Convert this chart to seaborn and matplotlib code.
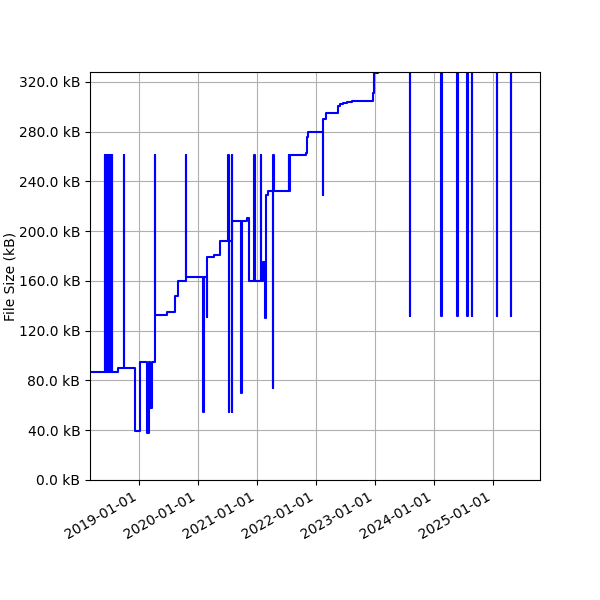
import seaborn as sns
import matplotlib.pyplot as plt
import matplotlib.dates as mdates
import matplotlib.ticker as mticker
import pandas as pd

# file size history (kB), step-wise changes
dates = [
    '2018-03-01', '2018-06-02', '2018-06-04', '2018-06-08', '2018-06-10',
    '2018-06-15', '2018-06-17', '2018-06-22', '2018-06-24', '2018-06-29',
    '2018-07-01', '2018-07-06', '2018-07-08', '2018-07-13', '2018-07-16',
    '2018-08-23', '2018-09-27', '2018-09-29', '2018-12-05', '2019-01-05',
    '2019-02-15', '2019-03-01', '2019-03-09', '2019-03-18', '2019-04-08',
    '2019-04-11', '2019-06-23', '2019-08-13', '2019-08-26', '2019-10-17',
    '2019-10-19', '2020-02-03', '2020-02-06', '2020-02-24', '2020-02-27',
    '2020-04-10', '2020-05-13', '2020-07-06', '2020-07-08', '2020-07-10',
    '2020-07-26', '2020-07-28', '2020-07-30', '2020-09-23', '2020-09-26',
    '2020-10-30', '2020-11-13', '2020-12-14', '2020-12-16', '2021-01-25',
    '2021-01-27', '2021-02-08', '2021-02-20', '2021-02-27', '2021-03-08',
    '2021-04-09', '2021-04-11', '2021-04-13', '2021-07-15', '2021-07-18',
    '2021-07-25', '2021-11-01', '2021-11-04', '2021-11-12', '2022-02-11',
    '2022-02-15', '2022-03-04', '2022-05-15', '2022-06-01', '2022-06-20',
    '2022-07-15', '2022-08-10', '2022-12-20', '2022-12-28', '2023-01-22',
    '2023-08-08', '2023-08-10', '2024-02-14', '2024-02-16', '2024-02-18',
    '2024-02-20', '2024-02-22', '2024-02-24', '2024-05-27', '2024-05-29',
    '2024-07-28', '2024-07-30', '2024-08-25', '2024-08-27', '2025-01-27',
    '2025-01-29', '2025-04-24', '2025-04-26', '2025-10-22',
]
sizes = [
    87, 261, 87, 261, 87,
    261, 87, 261, 87, 261,
    87, 261, 87, 261, 87,
    90, 261, 90, 39, 95,
    38, 95, 58, 95, 261,
    133, 135, 148, 160, 261,
    163, 55, 163, 131, 179,
    181, 192, 261, 55, 192,
    261, 55, 208, 70, 208,
    211, 160, 261, 160, 261,
    160, 175, 130, 229, 232,
    74, 261, 232, 261, 232,
    261, 263, 276, 280, 229,
    290, 295, 301, 302, 303,
    304, 305, 311, 327, 345,
    132, 345, 132, 345, 132,
    345, 132, 345, 132, 345,
    132, 345, 132, 345, 132,
    345, 132, 345, 345,
]

df = pd.DataFrame({'date': pd.to_datetime(dates), 'size': sizes})

fig = plt.figure(figsize=(6, 6), dpi=100, facecolor='white')
ax = fig.add_subplot(111)
sns.lineplot(x='date', y='size', data=df, color='blue', linewidth=1.5,
             drawstyle='steps-post', ax=ax)

ax.set_xlim(pd.Timestamp('2018-03-01'), pd.Timestamp('2025-10-22'))
ax.set_ylim(0, 328)
ax.yaxis.set_major_locator(mticker.MultipleLocator(40))
ax.yaxis.set_major_formatter(mticker.FuncFormatter(lambda v, p: f'{v:.1f} kB'))
ax.xaxis.set_major_locator(mdates.YearLocator())
ax.xaxis.set_major_formatter(mdates.DateFormatter('%Y-%m-%d'))
ax.grid(True)
ax.set_xlabel('')
ax.set_ylabel('File Size (kB)', labelpad=1)
fig.autofmt_xdate()
fig.subplots_adjust(left=0.15, right=0.9, top=0.88, bottom=0.2)
fig.savefig('out.png')
